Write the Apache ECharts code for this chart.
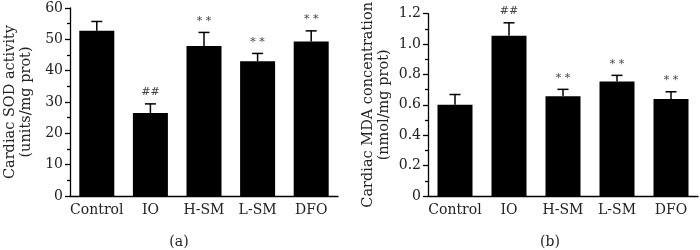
<!DOCTYPE html>
<html>
<head>
<meta charset="utf-8">
<script src="https://cdn.jsdelivr.net/npm/echarts@6/dist/echarts.min.js"></script>
</head>
<body style="margin:0">
<div id="main" style="width:700px;height:250px;"></div>
<script type="text/javascript">
// groups and values
var groups = ['Control', 'IO', 'H-SM', 'L-SM', 'DFO'];
var sodMean = [52.7, 26.5, 47.9, 43.0, 49.3];
var sodErr = [3.0, 2.9, 4.3, 2.5, 3.4];
var sodMark = ['', '##', '* *', '* *', '* *'];
var mdaMean = [0.60, 1.055, 0.657, 0.754, 0.638];
var mdaErr = [0.068, 0.085, 0.045, 0.04, 0.048];
var mdaMark = ['', '##', '* *', '* *', '* *'];

var FONT = 'DejaVu Serif';
var chart = echarts.init(document.getElementById('main'));

function errData(mean, err, mark) {
	return mean.map(function (m, i) { return [i, m, m + err[i], mark[i]]; });
}

// error bar (upper only) + significance text
function renderErr(params, api) {
	var top = api.coord([api.value(0), api.value(2)]);
	var base = api.coord([api.value(0), api.value(1)]);
	var half = 5.5;
	return {
		type: 'group',
		children: [
			{ type: 'line', shape: { x1: top[0], y1: base[1], x2: top[0], y2: top[1] },
				style: { stroke: '#000', lineWidth: 1.5 } },
			{ type: 'line', shape: { x1: top[0] - half, y1: top[1], x2: top[0] + half, y2: top[1] },
				style: { stroke: '#000', lineWidth: 1.5 } },
			{ type: 'text', x: top[0], y: top[1] - 6,
				style: { text: api.value(3), fill: '#444', font: '11px ' + FONT, align: 'center', verticalAlign: 'bottom' } }
		]
	};
}

function yAxis(idx, max, interval, name, fmt) {
	return {
		type: 'value', gridIndex: idx, min: 0, max: max, interval: interval,
		name: name, nameLocation: 'middle', nameGap: 36, nameRotate: 90,
		nameTextStyle: { fontFamily: FONT, fontSize: 14.5, color: '#222', lineHeight: 16 },
		axisLine: { show: true, lineStyle: { color: '#000', width: 1.3 } },
		axisTick: { show: true, length: 5, lineStyle: { color: '#000', width: 1.3 } },
		minorTick: { show: true, splitNumber: 2, length: 3, lineStyle: { color: '#000', width: 1.3 } },
		splitLine: { show: false },
		axisLabel: { fontFamily: FONT, fontSize: 14, color: '#222', margin: 7, formatter: fmt }
	};
}

function xAxis(idx) {
	return {
		type: 'category', gridIndex: idx, data: groups,
		axisLine: { lineStyle: { color: '#000', width: 1.3 } },
		axisTick: { show: false },
		axisLabel: { fontFamily: FONT, fontSize: 14, color: '#222', margin: 7, interval: 0 }
	};
}

option = {
	animation: false,
	title: [
		{ text: '(a)', left: 179, top: 235, textAlign: 'center', padding: 0,
			textStyle: { fontFamily: FONT, fontSize: 14, fontWeight: 'normal', color: '#222' } },
		{ text: '(b)', left: 550, top: 235, textAlign: 'center', padding: 0,
			textStyle: { fontFamily: FONT, fontSize: 14, fontWeight: 'normal', color: '#222' } }
	],
	grid: [
		{ left: 70, top: 8, width: 268, height: 188 },
		{ left: 428, top: 8, width: 270, height: 188 }
	],
	xAxis: [xAxis(0), xAxis(1)],
	yAxis: [
		yAxis(0, 60, 10, 'Cardiac SOD activity\n(units/mg prot)'),
		yAxis(1, 1.2, 0.2, 'Cardiac MDA concentration\n(nmol/mg prot)', function (v) {
			return v === 0 ? '0' : v.toFixed(1);
		})
	],
	series: [
		{ type: 'bar', xAxisIndex: 0, yAxisIndex: 0, data: sodMean, barWidth: 35,
			itemStyle: { color: '#000' } },
		{ type: 'custom', xAxisIndex: 0, yAxisIndex: 0, renderItem: renderErr,
			data: errData(sodMean, sodErr, sodMark), z: 3 },
		{ type: 'bar', xAxisIndex: 1, yAxisIndex: 1, data: mdaMean, barWidth: 35,
			itemStyle: { color: '#000' } },
		{ type: 'custom', xAxisIndex: 1, yAxisIndex: 1, renderItem: renderErr,
			data: errData(mdaMean, mdaErr, mdaMark), z: 3 }
	]
};

chart.setOption(option);
</script>
</body>
</html>
